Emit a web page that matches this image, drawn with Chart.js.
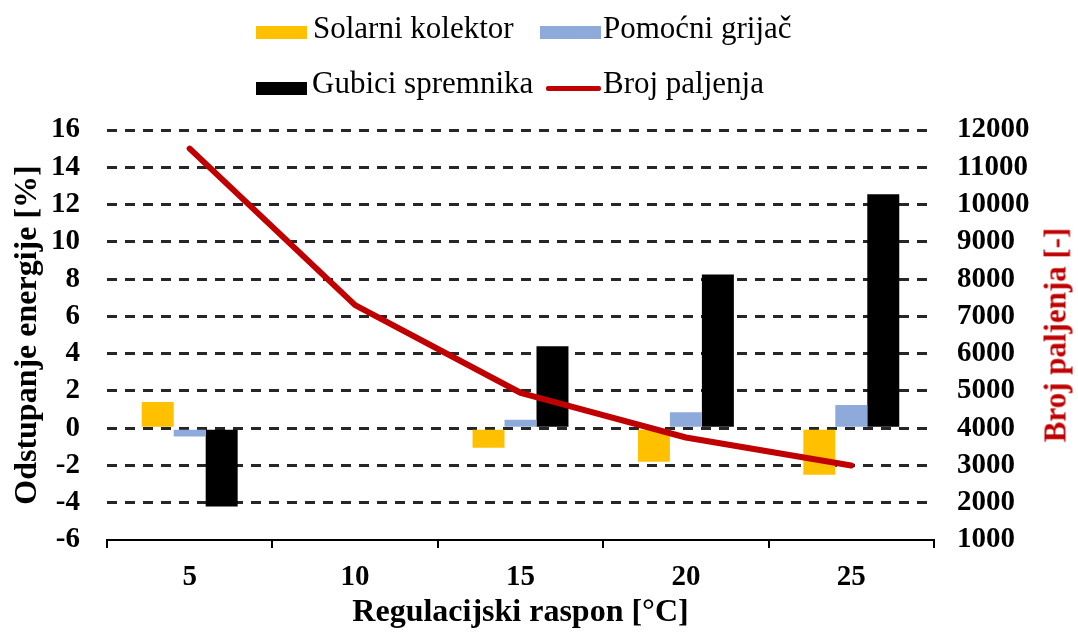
<!DOCTYPE html>
<html>
<head>
<meta charset="utf-8">
<script src="https://cdn.jsdelivr.net/npm/chart.js@4"></script>
<style>
  html, body { margin: 0; padding: 0; background: #fff; }
  #wrap { position: relative; width: 1078px; height: 633px; overflow: hidden; }
  #chart { position: absolute; left: 0; top: 0; }
  .lg { position: absolute; font-family: "Liberation Serif", "Times New Roman", serif; font-size: 31px; line-height: 30px; color: #000; white-space: nowrap; }
  .sw { position: absolute; }
  #rightTitle {
    position: absolute; left: 1055px; top: 335px;
    transform: translate(-50%, -50%) rotate(-90deg);
    font-family: "Liberation Serif", "Times New Roman", serif; font-weight: bold;
    font-size: 31px; line-height: 31px; color: #c00000; white-space: nowrap;
  }
</style>
</head>
<body>
<div id="wrap">
  <canvas id="chart" width="1078" height="633"></canvas>
  <div id="legend"></div>
  <div id="rightTitle">Broj paljenja [-]</div>
</div>
<script>
// -------------------------
// Data
// -------------------------
const CATEGORIES = ["5", "10", "15", "20", "25"];
const SOLAR = [1.4, null, -1.05, -1.8, -2.5];
const HEATER = [-0.45, null, 0.45, 0.85, 1.25];
const TANK_LOSS = [-4.2, null, 4.4, 8.25, 12.55];
const IGNITIONS = [11500, 7300, 4950, 3750, 3000];

const SERIES_NAMES = ["Solarni kolektor", "Pomoćni grijač", "Gubici spremnika", "Broj paljenja"];
const COLORS = ["#ffc000", "#8eaadb", "#000000", "#c00000"];

const FONT = "'Liberation Serif', 'Times New Roman', serif";

// -------------------------
// Legend (two rows, aligned columns)
// -------------------------
function buildLegend() {
  const legend = document.getElementById('legend');
  const items = [
    { sw: { left: 256, top: 26, w: 51, h: 13 }, text: { left: 313, top: 13 }, i: 0 },
    { sw: { left: 540, top: 26, w: 61, h: 13 }, text: { left: 603, top: 13 }, i: 1 },
    { sw: { left: 256, top: 82, w: 51, h: 13 }, text: { left: 312, top: 68 }, i: 2 },
    { sw: { left: 546, top: 86, w: 55, h: 5 }, text: { left: 603, top: 68 }, i: 3 }
  ];
  items.forEach(it => {
    const sw = document.createElement('div');
    sw.className = 'sw';
    sw.style.left = it.sw.left + 'px';
    sw.style.top = it.sw.top + 'px';
    sw.style.width = it.sw.w + 'px';
    sw.style.height = it.sw.h + 'px';
    sw.style.background = COLORS[it.i];
    if (it.i === 3) sw.style.borderRadius = '2px';
    legend.appendChild(sw);

    const tx = document.createElement('div');
    tx.className = 'lg';
    tx.style.left = it.text.left + 'px';
    tx.style.top = it.text.top + 'px';
    tx.textContent = SERIES_NAMES[it.i];
    legend.appendChild(tx);
  });
}

// -------------------------
// Chart
// -------------------------
function barSet(idx, values) {
  return {
    type: 'bar',
    label: SERIES_NAMES[idx],
    data: values,
    backgroundColor: COLORS[idx],
    borderWidth: 0,
    categoryPercentage: 0.58,
    barPercentage: 1,
    yAxisID: 'y',
    order: 1
  };
}

const tickFont = { family: FONT, size: 29, weight: 'bold' };
const titleFont = { family: FONT, size: 32, weight: 'bold' };

const ctx = document.getElementById('chart');
new Chart(ctx, {
  type: 'bar',
  data: {
    labels: CATEGORIES,
    datasets: [
      {
        type: 'line',
        label: SERIES_NAMES[3],
        data: IGNITIONS,
        borderColor: COLORS[3],
        borderWidth: 6,
        borderCapStyle: 'round',
        borderJoinStyle: 'round',
        pointRadius: 0,
        tension: 0,
        fill: false,
        yAxisID: 'y1',
        order: 0
      },
      barSet(0, SOLAR),
      barSet(1, HEATER),
      barSet(2, TANK_LOSS)
    ]
  },
  options: {
    responsive: false,
    animation: false,
    layout: { padding: { top: 130, left: 0, right: 0, bottom: 0 } },
    plugins: {
      legend: { display: false },
      tooltip: { enabled: false }
    },
    scales: {
      x: {
        position: 'bottom',
        grid: {
          display: true,
          drawOnChartArea: false,
          drawTicks: true,
          tickLength: 8,
          color: '#000',
          lineWidth: 2
        },
        border: { display: true, color: '#000', width: 2 },
        ticks: {
          color: '#000',
          padding: 12,
          font: tickFont,
          maxRotation: 0,
          autoSkip: false
        },
        title: {
          display: true,
          text: 'Regulacijski raspon [°C]',
          color: '#000',
          font: titleFont,
          padding: { top: 0, bottom: 1 }
        },
        afterFit: (s) => { s.height = 93; }
      },
      y: {
        position: 'left',
        min: -6,
        max: 16,
        grid: {
          drawTicks: false,
          lineWidth: 3,
          color: (c) => (c.tick && c.tick.value === -6) ? 'rgba(0,0,0,0)' : '#262626'
        },
        border: { display: false, dash: [10, 8] },
        ticks: {
          stepSize: 2,
          autoSkip: false,
          color: '#000',
          padding: 27,
          font: tickFont
        },
        title: {
          display: true,
          text: 'Odstupanje energije [%]',
          color: '#000',
          font: titleFont,
          padding: { top: 9, bottom: 0 }
        },
        afterFit: (s) => { s.width = 107; }
      },
      y1: {
        position: 'right',
        min: 1000,
        max: 12000,
        grid: { display: false, drawTicks: false, drawOnChartArea: false },
        border: { display: false },
        ticks: {
          stepSize: 1000,
          autoSkip: false,
          color: '#000',
          padding: 23,
          font: tickFont,
          callback: (v) => String(v)
        },
        afterFit: (s) => { s.width = 144; }
      }
    }
  }
});

buildLegend();
</script>
</body>
</html>
